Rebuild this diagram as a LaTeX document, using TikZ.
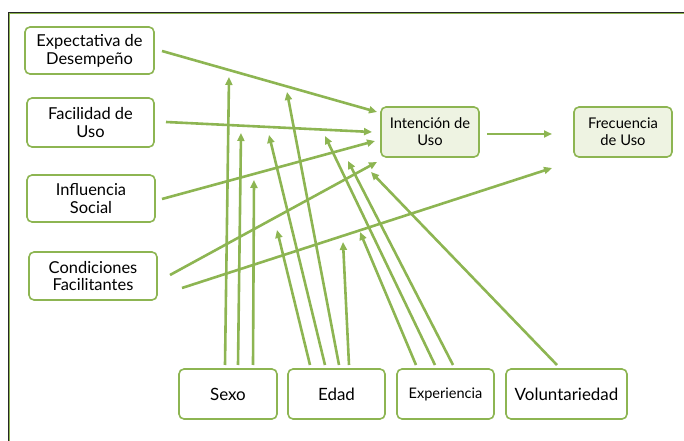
\documentclass[tikz,border=0pt]{standalone}
\usepackage{fontspec}
\setmainfont{Lato}
\usetikzlibrary{arrows.meta}
\definecolor{gr}{HTML}{8DB552}
\definecolor{grfill}{HTML}{EEF3E2}
\tikzset{
  box/.style={draw=gr, line width=1.6bp, rounded corners=5bp, fill=white, align=center, inner sep=0pt, font=\fontsize{16.5}{18}\selectfont},
  fbox/.style={box, fill=grfill, font=\fontsize{14.8}{17}\selectfont},
  arr/.style={draw=gr, line width=2.6bp, -{Triangle[length=8bp,width=7bp]}},
}
\begin{document}
\begin{tikzpicture}[x=1bp,y=-1bp]
\useasboundingbox (0,0) rectangle (684,441);
% frame
\draw[gr, line width=1.2bp] (9.6,442) -- (9.6,13.6) -- (685,13.6);
\draw[black!85, line width=1.3bp] (8.3,442) -- (8.3,12.3) -- (685,12.3);
% boxes
\node[box, minimum width=129bp, minimum height=47bp] (exp) at (89.5,50.5) {Expectativa de\\Desempeño};
\node[box, minimum width=127bp, minimum height=49bp] (fac) at (90.5,122.5) {Facilidad de\\Uso};
\node[box, minimum width=128bp, minimum height=47bp] (inf) at (91,198.5) {Influencia\\Social};
\node[box, minimum width=128bp, minimum height=48bp] (con) at (93,276) {Condiciones\\Facilitantes};
\node[fbox, minimum width=98bp, minimum height=50bp] (int) at (430,132) {Intención de\\Uso};
\node[fbox, minimum width=98bp, minimum height=50bp] (fre) at (623,132) {Frecuencia\\de Uso};
\node[box, minimum width=98bp, minimum height=50bp, font=\fontsize{17}{19}\selectfont] (sexo) at (228,394) {Sexo};
\node[box, minimum width=97bp, minimum height=50bp, font=\fontsize{17}{19}\selectfont] (edad) at (336.5,394) {Edad};
\node[box, minimum width=97bp, minimum height=50bp, font=\fontsize{14.6}{17}\selectfont] (expe) at (445.5,394) {Experiencia};
\node[box, minimum width=121bp, minimum height=50bp, font=\fontsize{17}{19}\selectfont] (vol) at (566.5,394) {Voluntariedad};
% endpoints
\coordinate (a1s) at (162,51);  \coordinate (a1e) at (377,112);
\coordinate (a2s) at (166,122); \coordinate (a2e) at (372,132);
\coordinate (a3s) at (162,199); \coordinate (a3e) at (375,141);
\coordinate (a4s) at (170,275); \coordinate (a4e) at (377,162);
\coordinate (a5s) at (182,288); \coordinate (a5e) at (552,168);
\coordinate (a6s) at (487,134); \coordinate (a6e) at (552,134);
% main arrows
\draw[arr] (a1s) -- (a1e);
\draw[arr] (a2s) -- (a2e);
\draw[arr] (a3s) -- (a3e);
\draw[arr] (a4s) -- (a4e);
\draw[arr] (a5s) -- (a5e);
\draw[arr] (a6s) -- (a6e);
% moderators: Sexo
\coordinate (s1) at (225,365); \coordinate (s1e) at (229,77);
\coordinate (s2) at (238,365); \coordinate (s2e) at (241,133);
\coordinate (s3) at (253,365); \coordinate (s3e) at (254,180);
\draw[arr] (s1) -- (s1e);
\draw[arr] (s2) -- (s2e);
\draw[arr] (s3) -- (s3e);
% Edad
\coordinate (e1) at (310,365); \coordinate (e1e) at (277,230);
\coordinate (e2) at (325,365); \coordinate (e2e) at (269,135);
\coordinate (e3) at (339,365); \coordinate (e3e) at (287,92);
\coordinate (e4) at (349,365); \coordinate (e4e) at (343,242);
\draw[arr] (e1) -- (e1e);
\draw[arr] (e2) -- (e2e);
\draw[arr] (e3) -- (e3e);
\draw[arr] (e4) -- (e4e);
% Experiencia
\coordinate (x1) at (416,365); \coordinate (x1e) at (360,232);
\coordinate (x2) at (435,365); \coordinate (x2e) at (325,136);
\coordinate (x3) at (453,365); \coordinate (x3e) at (348,161);
\draw[arr] (x1) -- (x1e);
\draw[arr] (x2) -- (x2e);
\draw[arr] (x3) -- (x3e);
% Voluntariedad
\coordinate (v1) at (557,365); \coordinate (v1e) at (371,172);
\draw[arr] (v1) -- (v1e);
\end{tikzpicture}
\end{document}
